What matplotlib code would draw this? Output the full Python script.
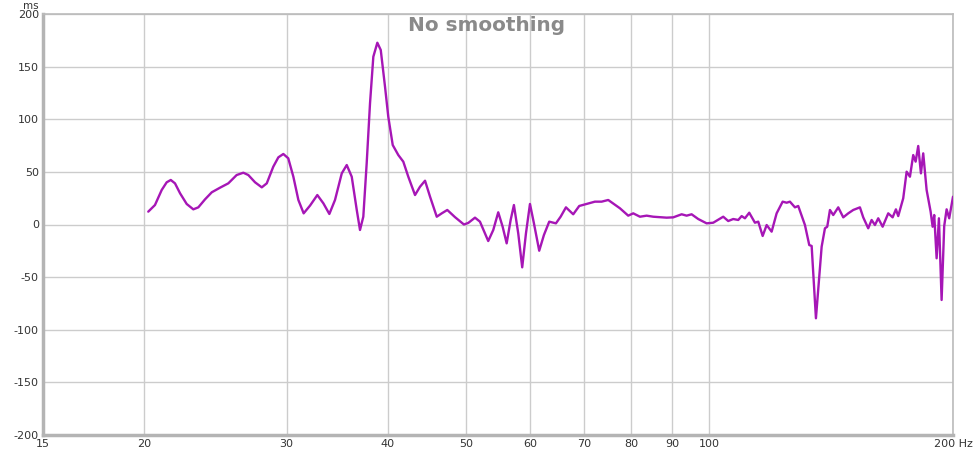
import numpy as np
import matplotlib
matplotlib.use("Agg")
import matplotlib.pyplot as plt
from matplotlib.ticker import FixedLocator, NullLocator

plt.rcParams["axes.unicode_minus"] = False

# Group delay (Hz, ms)
freq_hz = [20.24, 20.63, 21.03, 21.33, 21.58, 21.84, 22.16, 22.58, 23.01, 23.34,
           23.79, 24.25, 24.83, 25.42, 26.03, 26.53, 26.91, 27.43, 27.96, 28.36,
           28.89, 29.31, 29.73, 30.15, 30.59, 31.03, 31.50, 32.08, 32.75, 33.32,
           33.89, 34.44, 35.11, 35.61, 36.12, 36.64, 36.98, 37.33, 37.69, 38.05,
           38.41, 38.85, 39.23, 39.71, 40.08, 40.59, 41.24, 41.83, 42.43, 43.25,
           43.87, 44.50, 45.14, 46.01, 46.67, 47.41, 48.46, 49.71, 50.33, 51.30,
           52.03, 53.27, 54.04, 54.81, 55.50, 56.14, 56.78, 57.31, 58.02, 58.68,
           59.31, 59.99, 60.67, 61.59, 62.42, 63.37, 64.59, 65.46, 66.46, 67.85,
           69.02, 70.49, 72.17, 73.56, 74.96, 77.50, 79.35, 80.49, 82.04, 83.62,
           85.20, 88.52, 90.20, 92.38, 93.70, 95.04, 96.85, 99.19, 101.07, 103.99,
           105.48, 106.99, 108.53, 109.59, 110.62, 111.98, 113.81, 114.89, 116.34, 117.67,
           119.35, 121.06, 123.15, 124.56, 125.73, 127.54, 128.74, 131.22, 132.84, 133.75,
           135.39, 137.61, 138.91, 139.82, 140.90, 142.23, 144.27, 146.34, 148.43, 150.56,
           153.45, 154.90, 157.12, 158.65, 160.15, 161.66, 163.70, 166.33, 168.42, 170.01,
           171.13, 173.58, 175.27, 176.93, 178.59, 179.82, 181.15, 182.55, 183.75, 185.53,
           187.66, 188.73, 189.59, 190.89, 192.14, 193.62, 195.06, 196.40, 197.86, 200.0]
delay_ms = [12.2, 18.5, 32.8, 40.1, 42.3, 39.1, 29.6, 19.5, 14.4, 16.3,
            23.9, 30.6, 35.0, 39.1, 47.0, 49.2, 47.0, 40.1, 35.3, 39.1,
            54.9, 63.8, 67.0, 62.9, 45.4, 23.3, 10.6, 18.0, 28.0, 20.1,
            10.0, 23.3, 48.6, 56.5, 45.4, 13.8, -5.2, 7.4, 58.1, 115.2,
            159.4, 172.7, 165.8, 130.9, 102.4, 75.5, 66.0, 59.7, 45.4, 28.0,
            35.9, 41.6, 26.4, 7.4, 10.6, 13.8, 7.0, 0.0, 1.5, 6.5,
            2.7, -15.7, -5.2, 11.6, -2.1, -17.9, 4.3, 18.5, -8.4, -40.7,
            -8.4, 19.5, 1.1, -24.9, -10.0, 2.7, 1.1, 7.4, 16.3, 9.7,
            17.6, 19.5, 21.7, 21.7, 23.3, 15.4, 8.4, 10.6, 7.4, 8.4,
            7.4, 6.5, 6.8, 9.7, 8.4, 9.7, 5.2, 1.1, 1.7, 7.4,
            3.3, 5.2, 4.3, 8.0, 5.9, 11.2, 1.7, 2.7, -10.9, -0.5,
            -6.8, 10.6, 21.7, 20.7, 21.7, 16.3, 17.6, -0.5, -19.5, -20.4,
            -89.1, -21.1, -3.6, -2.1, 13.8, 9.0, 16.3, 6.8, 10.6, 13.8,
            16.3, 6.8, -3.6, 4.3, -0.5, 5.9, -2.1, 10.6, 6.8, 14.4,
            8.0, 24.9, 50.2, 45.4, 66.0, 59.7, 74.6, 48.6, 67.6, 32.8,
            12.2, -2.1, 9.0, -32.1, 5.9, -71.7, -1.4, 14.4, 5.9, 26.4]

x_ticks = [15, 20, 30, 40, 50, 60, 70, 80, 90, 100, 200]
x_labels = ["15", "20", "30", "40", "50", "60", "70", "80", "90", "100", "200 Hz"]
y_ticks = [-200, -150, -100, -50, 0, 50, 100, 150, 200]

fig = plt.figure(figsize=(9.75, 4.55), dpi=100)
ax = fig.add_axes([43 / 975, 20 / 455, 910 / 975, 421 / 455])

ax.plot(freq_hz, delay_ms, color="#a616b6", linewidth=1.7,
        solid_joinstyle="round", solid_capstyle="round", zorder=3)

ax.set_xscale("log")
ax.set_xlim(15, 200)
ax.set_ylim(-200, 200)
ax.xaxis.set_major_locator(FixedLocator(x_ticks))
ax.xaxis.set_minor_locator(NullLocator())
ax.set_xticklabels(x_labels)
ax.set_yticks(y_ticks)

ax.grid(True, color="#cccccc", linewidth=1.0, zorder=0)
ax.tick_params(length=0, labelsize=8, colors="#333333", pad=3)

for side in ["top", "right"]:
    ax.spines[side].set_color("#bbbbbb")
    ax.spines[side].set_linewidth(1.2)
for side in ["left", "bottom"]:
    ax.spines[side].set_color("#b4b4b4")
    ax.spines[side].set_linewidth(2.5)

ax.text(0.487, 0.996, "No smoothing", transform=ax.transAxes, ha="center", va="top",
        fontsize=14.4, fontweight="bold", color="#8a8a8a")
fig.text(31 / 975, 1 - 6 / 455, "ms", ha="center", va="center", fontsize=7.5, color="#333333")

fig.savefig("out.png", dpi=100, facecolor="white")
